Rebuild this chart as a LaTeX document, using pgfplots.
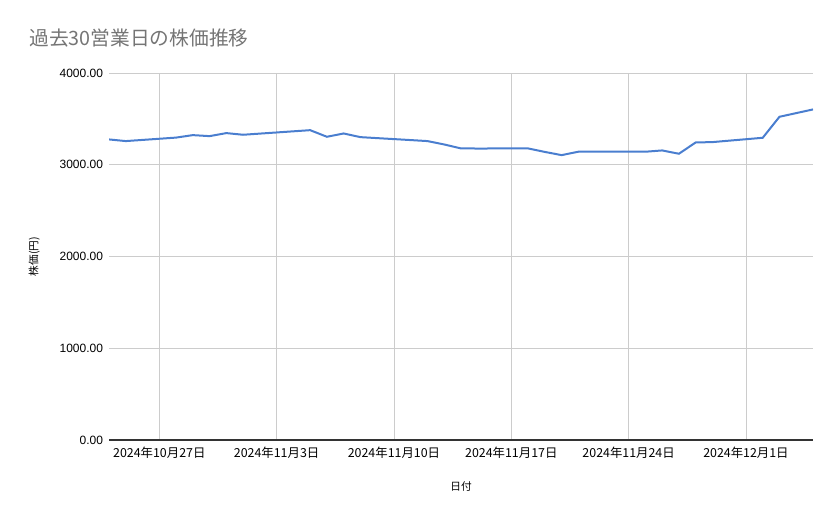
\documentclass[border=0pt]{standalone}
\usepackage{pgfplots}
\pgfplotsset{compat=1.18}
\usepackage{fontspec}
\setmainfont{Liberation Sans}
\newfontfamily\jp{Noto Sans CJK JP}

\definecolor{linecol}{HTML}{4A7ECF}
\definecolor{gridcol}{HTML}{CCCCCC}
\definecolor{titlecol}{HTML}{757575}
\definecolor{axiscol}{HTML}{333333}

% day offsets from 2024-10-27 (business days only)
\pgfplotstableread{
d    price
-3   3276
-2   3258
1    3296
2    3323
3    3312
4    3345
5    3327
9    3377
10   3305
11   3341
12   3301
15   3269
16   3258
17   3221
18   3178
19   3177
22   3178
23   3140
24   3105
25   3142
26   3142
29   3142
30   3156
31   3120
32   3243
33   3247
36   3294
37   3523
38   3563
39   3603
}\prices

\begin{document}
\begin{tikzpicture}
\useasboundingbox (0,0) rectangle (629.25pt,389.25pt);
\node[anchor=west,text=titlecol,font=\jp\fontsize{14.8}{18}\selectfont] at (18.5pt,360.75pt) {過去30営業日の株価推移};
\begin{axis}[
    at={(81.75pt,59.25pt)}, anchor=south west,
    scale only axis,
    width=528pt, height=275.25pt,
    xmin=-3, xmax=39,
    ymin=0, ymax=4000,
    xtick={0,7,14,21,28,35},
    xticklabels={2024年10月27日,2024年11月3日,2024年11月10日,2024年11月17日,2024年11月24日,2024年12月1日},
    xticklabel style={font=\jp\fontsize{9.3}{11}\selectfont, yshift=-1.5pt},
    ytick={0,1000,2000,3000,4000},
    yticklabel style={font=\fontsize{9}{11}\selectfont, xshift=-1pt},
    /pgf/number format/.cd, fixed, fixed zerofill, precision=2, 1000 sep={}, assume math mode=true,
    /pgfplots/.cd,
    major tick length=0pt,
    grid=major,
    grid style={draw=gridcol, line width=0.6pt},
    axis x line*=bottom,
    axis y line*=left,
    x axis line style={draw=axiscol, line width=0.9pt, -},
    y axis line style={draw=none},
    xlabel={日付},
    ylabel={株価(円)},
    xlabel style={font=\jp\fontsize{8}{10}\selectfont, yshift=-11pt},
    ylabel style={font=\jp\fontsize{8}{10}\selectfont, yshift=8pt},
    clip=true,
]
\addplot[color=linecol, line width=1.5pt, mark=none] table[x=d, y=price] {\prices};
\end{axis}
\end{tikzpicture}
\end{document}
